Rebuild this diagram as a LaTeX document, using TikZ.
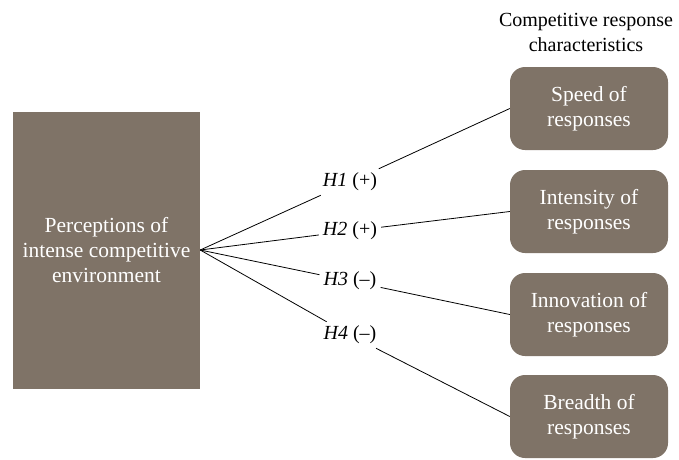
\documentclass[tikz,border=0pt]{standalone}
\usepackage{fontspec}
\setmainfont{Liberation Serif}
\definecolor{boxc}{RGB}{127,115,103}
\tikzset{
  x=1pt,y=-1pt,
  every node/.style={font=\fontsize{20}{25}\selectfont, align=center},
  leftbox/.style={fill=boxc, text=white, minimum width=187pt, minimum height=277pt, inner sep=0pt, font=\fontsize{21.5}{25}\selectfont},
  rbox/.style={fill=boxc, text=white, rounded corners=15pt, minimum width=158pt, minimum height=83pt, inner sep=0pt, font=\fontsize{21.5}{25}\selectfont},
  lab/.style={inner sep=4pt},
  conn/.style={draw=black, line width=0.8pt}
}
\begin{document}
\begin{tikzpicture}
\useasboundingbox (0,0) rectangle (679,459);
\node[leftbox] (P) at (106.5,250) {Perceptions of\\intense competitive\\environment};
\node (T) at (586,32.5) {Competitive response\\characteristics};
\node[rbox] (S1) at (589,108.5) {Speed of\\responses};
\node[rbox] (S2) at (589,211.5) {Intensity of\\responses};
\node[rbox] (S3) at (589,314.5) {Innovation of\\responses};
\node[rbox] (S4) at (589,416.5) {Breadth of\\responses};
\node[lab] (h1) at (350,182) {\textit{H1} (+)};
\node[lab] (h2) at (350,231) {\textit{H2} (+)};
\node[lab] (h3) at (350,281) {\textit{H3} (--)};
\node[lab] (h4) at (350,335) {\textit{H4} (--)};
\coordinate (o) at (P.east);
\draw[conn] (o) -- (h1);
\draw[conn] (h1) -- (S1.west);
\draw[conn] (o) -- (h2);
\draw[conn] (h2) -- (S2.west);
\draw[conn] (o) -- (h3);
\draw[conn] (h3) -- (S3.west);
\draw[conn] (o) -- (h4);
\draw[conn] (h4) -- (S4.west);
\end{tikzpicture}
\end{document}
